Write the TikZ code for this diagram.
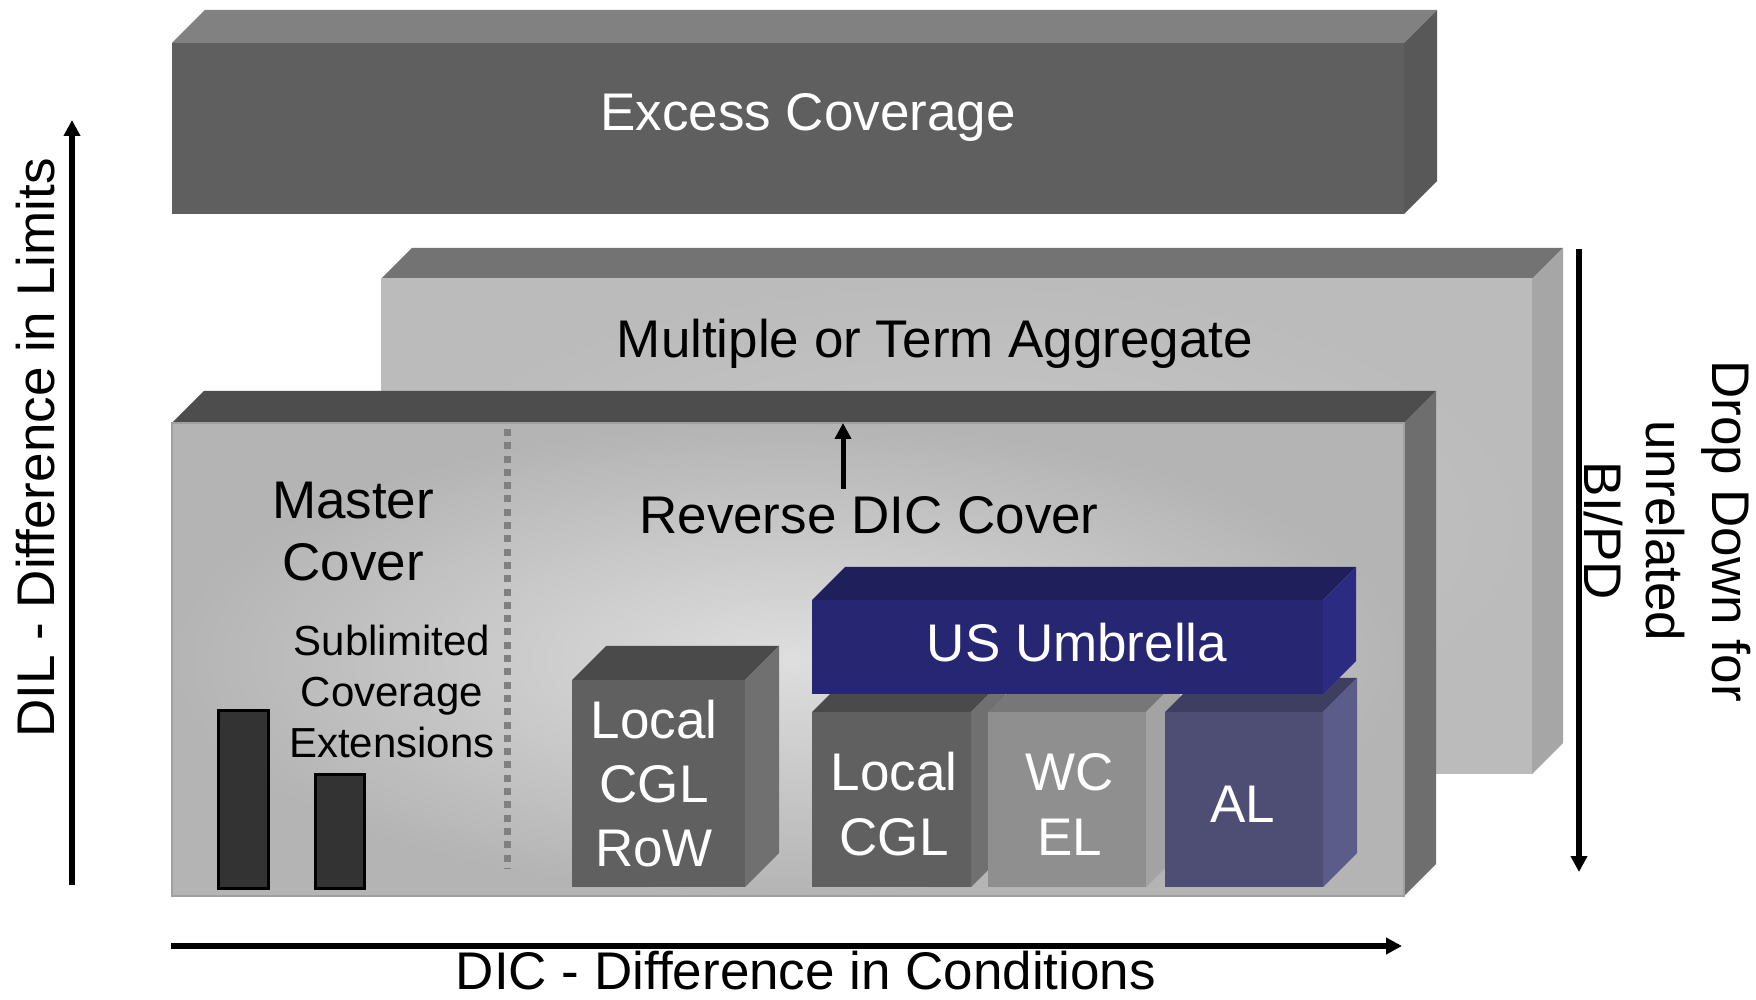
\documentclass[tikz,border=0pt]{standalone}
\usepackage{fontspec}
\setmainfont{Liberation Sans}
\usetikzlibrary{arrows.meta}
\definecolor{exfront}{HTML}{5F5F5F}
\definecolor{extop}{HTML}{818181}
\definecolor{exside}{HTML}{585858}
\definecolor{mtin}{HTML}{C9C9C9}
\definecolor{mtout}{HTML}{BBBBBB}
\definecolor{mttop}{HTML}{737373}
\definecolor{mtside}{HTML}{A6A6A6}
\definecolor{rvtop}{HTML}{4D4D4D}
\definecolor{rvside}{HTML}{6E6E6E}
\definecolor{rvin}{HTML}{DEDEDE}
\definecolor{rvout}{HTML}{B4B4B4}
\definecolor{rvedge}{HTML}{A0A0A0}
\definecolor{dkfront}{HTML}{606060}
\definecolor{dktop}{HTML}{4A4A4A}
\definecolor{dkside}{HTML}{707070}
\definecolor{wcfront}{HTML}{8F8F8F}
\definecolor{wctop}{HTML}{777777}
\definecolor{wcside}{HTML}{A3A3A3}
\definecolor{alfront}{HTML}{4E4E75}
\definecolor{altop}{HTML}{3E3E60}
\definecolor{alside}{HTML}{5C5C8A}
\definecolor{usfront}{HTML}{262673}
\definecolor{ustop}{HTML}{1F1F5C}
\definecolor{usside}{HTML}{2B2B82}
\definecolor{barfill}{HTML}{333333}
\definecolor{dotgray}{HTML}{808080}
% #1 x0, #2 y0, #3 x1, #4 y1, #5 depth, #6 front style, #7 top colour, #8 side colour
\newcommand{\slab}[8]{%
  \fill[#7] (#1,#4) -- (#1+#5,#4+#5) -- (#3+#5,#4+#5) -- (#3,#4) -- cycle;
  \fill[#8] (#3,#2) -- (#3,#4) -- (#3+#5,#4+#5) -- (#3+#5,#2+#5) -- cycle;
  \path[#6] (#1,#2) rectangle (#3,#4);
}
\begin{document}
\begin{tikzpicture}[x=1pt,y=1pt,
  big/.style={font=\fontsize{53}{64}\selectfont, inner sep=0pt, anchor=base},
  small/.style={font=\fontsize{42}{50}\selectfont, inner sep=0pt, anchor=base},
  axisarrow/.style={line width=5.5pt, -{Triangle[length=16pt,width=16pt]}}]
\useasboundingbox (0,0) rectangle (1756,999);
\fill[white] (0,0) rectangle (1756,999);

% Excess Coverage
\slab{172}{785}{1404}{956}{33}{fill=exfront}{extop}{exside}
\node[big, text=white] (excess) at (808,868) {Excess Coverage};

% Multiple or Term Aggregate
\slab{381}{225}{1532}{720}{31}{inner color=mtin, outer color=mtout}{mttop}{mtside}
\node[big] (multiple) at (935,641) {Multiple or Term Aggregate};

% Reverse DIC Cover
\slab{172}{103}{1404}{576}{32}{inner color=rvin, outer color=rvout}{rvtop}{rvside}
\draw[rvedge, line width=1.5pt] (172,103) rectangle (1404,576);

% dotted divider
\draw[dotgray, line width=7pt, dash pattern=on 7pt off 6.3pt] (507,570) -- (507,130);

\node[big] (master1) at (353,480) {Master};
\node[big] (master2) at (353,418) {Cover};
\node[small] (sub1) at (392,343) {Sublimited};
\node[small] (sub2) at (392,292) {Coverage};
\node[small] (sub3) at (392,241) {Extensions};

% bars
\draw[fill=barfill, line width=3pt] (218,111) rectangle (268,288);
\draw[fill=barfill, line width=3pt] (315,111) rectangle (364,224);

\node[big] (reverse) at (869,465) {Reverse DIC Cover};
\coordinate (rvarrowfrom) at (843,510);
\coordinate (rvarrowto) at (843,576);
\draw[line width=5pt, -{Triangle[length=16pt,width=16pt]}] (rvarrowfrom) -- (rvarrowto);

% Local CGL RoW
\slab{572}{112}{745}{319}{34}{fill=dkfront}{dktop}{dkside}
\node[big, text=white] (row1) at (654,260) {Local};
\node[big, text=white] (row2) at (654,196) {CGL};
\node[big, text=white] (row3) at (654,133) {RoW};

% lower row
\slab{812}{112}{971}{287}{34}{fill=dkfront}{dktop}{dkside}
\slab{988}{112}{1146}{287}{34}{fill=wcfront}{wctop}{wcside}
\slab{1165}{112}{1323}{287}{34}{fill=alfront}{altop}{alside}
\node[big, text=white] (lcgl1) at (894,208) {Local};
\node[big, text=white] (lcgl2) at (894,144) {CGL};
\node[big, text=white] (wc1) at (1070,208) {WC};
\node[big, text=white] (wc2) at (1070,144) {EL};
\node[big, text=white] (al) at (1243,176) {AL};

% US Umbrella
\slab{812}{305}{1323}{399}{33}{fill=usfront}{ustop}{usside}
\node[big, text=white] (umbrella) at (1077,337) {US Umbrella};

% axes
\coordinate (yfrom) at (72,114);
\coordinate (yto) at (72,879);
\draw[axisarrow] (yfrom) -- (yto);
\node[big, rotate=90] (dil) at (54,551) {DIL - Difference in Limits};

\coordinate (xfrom) at (171,53);
\coordinate (xto) at (1402,53);
\draw[axisarrow] (xfrom) -- (xto);
\node[big] (dic) at (806,10) {DIC - Difference in Conditions};

\coordinate (dfrom) at (1579,750);
\coordinate (dto) at (1579,127);
\draw[axisarrow] (dfrom) -- (dto);
\node[big, rotate=-90] (drop1) at (1712,468) {Drop Down for};
\node[big, rotate=-90] (drop2) at (1646,468) {unrelated};
\node[big, rotate=-90] (drop3) at (1584,468) {BI/PD};
\end{tikzpicture}
\end{document}
